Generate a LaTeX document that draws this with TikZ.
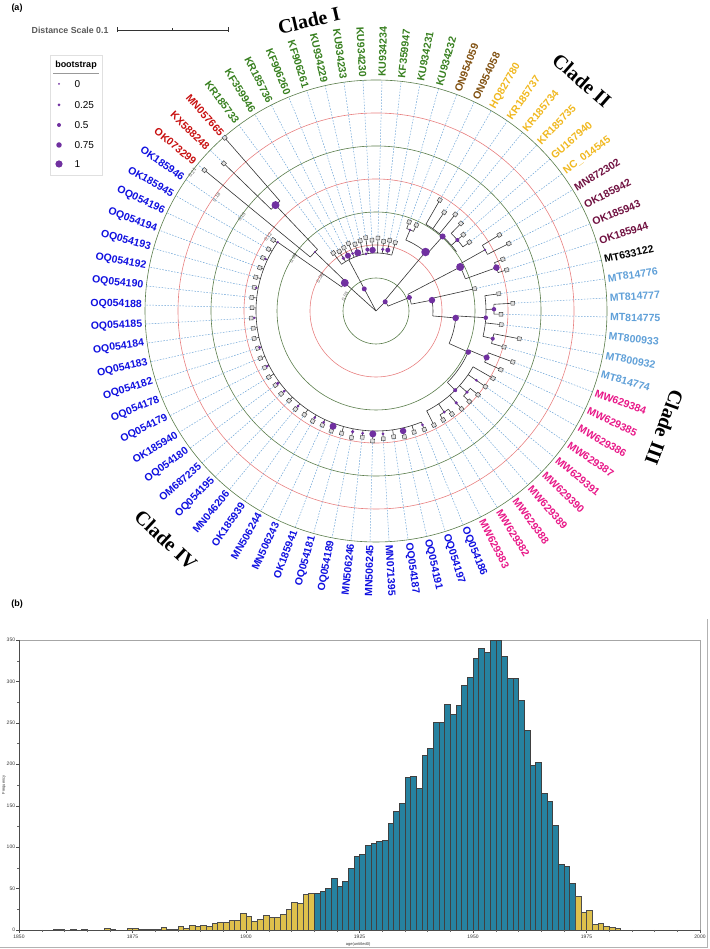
\documentclass[tikz,border=0pt]{standalone}
\usepackage{fontspec}
\setmainfont{Liberation Serif}
\setsansfont{Liberation Sans}
\usetikzlibrary{calc}
\definecolor{CladeGreen}{RGB}{56,128,32}
\definecolor{CladeBrown}{RGB}{128,80,16}
\definecolor{CladeYellow}{RGB}{240,184,32}
\definecolor{CladeMaroon}{RGB}{112,16,64}
\definecolor{CladeSky}{RGB}{96,160,216}
\definecolor{CladePink}{RGB}{232,24,136}
\definecolor{CladeBlue}{RGB}{16,16,224}
\definecolor{CladeRed}{RGB}{200,16,16}
\definecolor{BootPurple}{RGB}{112,48,160}
\definecolor{RingGreen}{RGB}{90,125,75}
\definecolor{RingRed}{RGB}{232,128,128}
\definecolor{LinkBlue}{RGB}{110,165,215}
\definecolor{BarTeal}{RGB}{38,130,160}
\definecolor{BarGold}{RGB}{222,192,76}

\tikzset{
  treeline/.style={draw=black!80, line width=0.6pt},
  tipbox/.style={rectangle, draw=black!80, fill=black!12, line width=0.4pt, minimum size=3.8pt, inner sep=0pt},
  bootdot/.style={circle, fill=BootPurple, inner sep=0pt, minimum size=#1},
  leaflink/.style={draw=LinkBlue, line width=0.5pt, dash pattern=on 1.6pt off 1.4pt},
  leaflab/.style={font=\sffamily\bfseries\fontsize{10.5}{12}\selectfont, inner sep=0pt},
  cladelab/.style={font=\rmfamily\bfseries\fontsize{20}{22}\selectfont, inner sep=0pt},
  scalelab/.style={font=\sffamily\fontsize{5}{6}\selectfont, text=black!60, inner sep=0.5pt},
  ticklab/.style={font=\sffamily\fontsize{5}{6}\selectfont, text=black!80, inner sep=1pt},
  goldbar/.style={fill=BarGold, draw=black!70, line width=0.4pt},
  tealbar/.style={fill=BarTeal, draw=black!75, line width=0.4pt}
}

\newcommand{\radline}[3]{\draw[treeline] (#1:#2pt) -- (#1:#3pt);}
\newcommand{\arcline}[3]{\draw[treeline] (#1:#3pt) arc[start angle=#1, end angle=#2, radius=#3pt];}

\begin{document}
\begin{tikzpicture}[x=1pt, y=1pt]
\useasboundingbox (0,0) rectangle (709,949);

% panel labels
\node[font=\sffamily\bfseries\fontsize{9}{10}\selectfont] (pa) at (17,941) {(a)};
\node[font=\sffamily\bfseries\fontsize{9}{10}\selectfont] (pb) at (17,345) {(b)};

% distance scale
\node[font=\sffamily\bfseries\fontsize{8.8}{10}\selectfont, text=black!65, anchor=east] (dscale) at (112,919) {Distance Scale 0.1};
\coordinate (dsl) at (117,919);
\coordinate (dsr) at (228,919);
\draw[black!80, line width=0.7pt] (dsl) -- (dsr);
\draw[black!80, line width=0.7pt] ($(dsl)+(0,2.5)$) -- ($(dsl)-(0,2.5)$);
\draw[black!80, line width=0.7pt] ($(dsr)+(0,2.5)$) -- ($(dsr)-(0,2.5)$);
\draw[black!80, line width=0.5pt] ($(dsl)!0.5!(dsr)+(0,1.5)$) -- ($(dsl)!0.5!(dsr)-(0,1.5)$);

% bootstrap legend
\draw[black!12, fill=white] (50,774) rectangle (102,894);
\node[font=\sffamily\bfseries\fontsize{9}{10}\selectfont] (legtitle) at (76,884) {bootstrap};
\draw[black!40, line width=0.5pt] (53,875.5) -- (99,875.5);
\foreach \v/\d/\yy in {0/2/865, 0.25/3/844, 0.5/4/824, 0.75/5.5/804, 1/7.2/785}{
  \node[bootdot=\d pt] (legdot\yy) at (59,\yy) {};
  \node[font=\sffamily\fontsize{10}{11}\selectfont, anchor=west] (legval\yy) at (71,\yy) {\v};
}

% ---------------- circular tree ----------------
\begin{scope}[shift={(376,638)}]
  % rings
  \foreach \r/\s in {33/RingGreen,66/RingRed,99/RingGreen,132/RingRed,165/RingGreen,198/RingRed,231/RingGreen}
    \draw[draw=\s, line width=0.6pt] (0,0) circle[radius=\r pt];

  % scale values
  \foreach \a/\r/\t in {155/34/0.03, 149.5/65/0.06, 147.5/98/0.09, 145.6/131/0.12, 145/164/0.15, 144.5/196/0.18, 143/230/0.21}
    \node[scalelab, rotate=\a-90] (sc\r) at (\a:\r pt) {\t};

  % root and inner splits
  \radline{45}{0}{13}
  \radline{118}{0}{25}
  \radline{138}{0}{42}
  % clade I
  \radline{118}{25}{58}
  \arcline{74.3}{126.4}{58}
  % red + clade IV
  \arcline{136}{145}{42}
  \radline{136}{42}{85}
  \arcline{133.5}{140.6}{85}
  \radline{133.5}{85}{146}
  \arcline{131.1}{135.9}{146}
  \radline{145}{42}{120}
  \arcline{145}{292.2}{120}
  % clade II
  \arcline{22}{50}{13}
  \radline{50}{13}{77}
  \arcline{48.2}{67.2}{77}
  \radline{67.2}{77}{88}
  \arcline{64.8}{69.6}{88}
  \radline{48.2}{77}{100}
  \arcline{36.4}{60.1}{100}
  \radline{41.1}{100}{108}
  \arcline{36.4}{45.9}{108}
  \radline{22}{13}{36}
  \arcline{11}{27.6}{36}
  \radline{27.6}{36}{95}
  \arcline{19.8}{29.3}{95}
  \radline{29.3}{95}{125}
  \arcline{26.9}{31.7}{125}
  \radline{19.8}{95}{128}
  \arcline{17.4}{22.2}{128}
  \radline{11}{36}{57}
  \arcline{-5}{12.7}{57}
  \radline{-5}{57}{80}
  \arcline{-24}{-3.5}{80}
  \radline{-3.5}{80}{110}
  \arcline{-13.35}{8.0}{110}
  \radline{0.85}{110}{118}
  \arcline{-1.5}{3.2}{118}
  \radline{-13.35}{110}{120}
  \arcline{-15.7}{-11.0}{120}
  % clade III
  \radline{-24}{80}{101}
  \arcline{-45}{-22.8}{101}
  \radline{-22.8}{101}{120}
  \arcline{-25.2}{-20.4}{120}
  \radline{-45}{101}{112}
  \arcline{-63.1}{-29.9}{112}
  \radline{-41.75}{112}{122}
  \arcline{-44.1}{-39.4}{122}
  \radline{-56}{112}{122}
  \arcline{-58.4}{-53.6}{122}

  % leaves: label/colour/stub start/tip radius
  \foreach \lab/\col/\rp/\rt [count=\i from 0] in {
    KR185733/CladeGreen/58/72, KF359946/CladeGreen/58/70, KR185736/CladeGreen/58/71,
    KF906260/CladeGreen/58/73, KF906261/CladeGreen/58/70, KU934229/CladeGreen/58/72,
    KU934233/CladeGreen/58/74, KU934230/CladeGreen/58/71, KU934234/CladeGreen/58/73,
    KF359947/CladeGreen/58/70, KU934231/CladeGreen/58/72, KU934232/CladeGreen/58/71,
    ON954059/CladeBrown/88/95, ON954058/CladeBrown/88/95,
    HQ827780/CladeYellow/100/128, KR185737/CladeYellow/100/120, KR185734/CladeYellow/100/125,
    KR185735/CladeYellow/108/122, GU167940/CladeYellow/108/116, NC\_014545/CladeYellow/108/116,
    MN872302/CladeMaroon/125/145, OK185942/CladeMaroon/125/149,
    OK185943/CladeMaroon/128/137, OK185944/CladeMaroon/128/137,
    MT633122/black/57/101,
    MT814776/CladeSky/110/124, MT814777/CladeSky/118/137, MT814775/CladeSky/118/125,
    MT800933/CladeSky/110/126, MT800932/CladeSky/120/146, MT814774/CladeSky/120/133,
    MW629384/CladePink/120/146, MW629385/CladePink/120/138, MW629386/CladePink/112/135,
    MW629387/CladePink/112/133, MW629391/CladePink/122/132, MW629390/CladePink/122/130,
    MW629389/CladePink/112/130, MW629388/CladePink/122/128, MW629382/CladePink/122/128,
    MW629383/CladePink/112/128,
    OQ054186/CladeBlue/120/128, OQ054197/CladeBlue/120/127, OQ054191/CladeBlue/120/129,
    OQ054187/CladeBlue/120/127, MN071395/CladeBlue/120/128, MN506245/CladeBlue/120/130,
    MN506246/CladeBlue/120/127, OQ054189/CladeBlue/120/129, OQ054181/CladeBlue/120/127,
    OK185941/CladeBlue/120/128, MN506243/CladeBlue/120/126, MN506244/CladeBlue/120/127,
    OK185939/CladeBlue/120/126, MN046206/CladeBlue/120/127, OQ054195/CladeBlue/120/125,
    OM687235/CladeBlue/120/126, OQ054180/CladeBlue/120/125, OK185940/CladeBlue/120/126,
    OQ054179/CladeBlue/120/125, OQ054178/CladeBlue/120/125, OQ054182/CladeBlue/120/124,
    OQ054183/CladeBlue/120/125, OQ054184/CladeBlue/120/124, OQ054185/CladeBlue/120/125,
    OQ054188/CladeBlue/120/124, OQ054190/CladeBlue/120/125, OQ054192/CladeBlue/120/124,
    OQ054193/CladeBlue/120/125, OQ054194/CladeBlue/120/124, OQ054196/CladeBlue/120/125,
    OK185945/CladeBlue/120/124, OK185946/CladeBlue/120/125,
    OK073299/CladeRed/85/222, KX588248/CladeRed/146/212, MN057665/CladeRed/146/230}{
    \pgfmathsetmacro\an{mod(126.4-4.7368*\i+450,360)-90}
    \pgfmathtruncatemacro\flip{\an>90 ? 1 : 0}
    \node[tipbox, rotate=\an] (tip\i) at (\an:\rt pt) {};
    \coordinate (ring\i) at (\an:231pt);
    \draw[leaflink] (tip\i) -- (ring\i);
    \draw[treeline] (\an:\rp pt) -- (tip\i);
    \ifnum\flip=1
      \node[leaflab, text=\col, anchor=east, rotate=\an+180] (lab\i) at (\an:234pt) {\lab};
    \else
      \node[leaflab, text=\col, anchor=west, rotate=\an] (lab\i) at (\an:234pt) {\lab};
    \fi
  }

  % bootstrap dots on inner nodes (angle/radius/size)
  \foreach \a/\r/\d [count=\n] in {138/42/8, 118/25/5, 45/13/5, 22/36/5, 50/77/8.5,
      48.2/100/6, 41.1/108/4, 67.2/88/2.5, 27.6/95/8, 29.3/125/2.5, 19.8/128/6.5,
      11/57/6.5, -5/80/6.5, -3.5/110/4.5, 0.85/118/4.5, -13.35/120/4, -24/101/5.5,
      -22.8/120/6, -45/112/4, -41.75/122/3.5, -56/122/3, 136/85/2, 133.5/146/8,
      145/120/2.5, 100/58/3}
    \node[bootdot=\d pt] (bs\n) at (\a:\r pt) {};
  % bootstrap dots on leaf stubs (leaf/radius/size)
  \foreach \i/\r/\d in {1/62/3.5, 2/62/6, 3/62/3, 4/61/7, 6/62/4, 7/61/6.5, 9/62/3.5, 10/62/5,
      34/122/3, 37/122/3.5, 41/123/3, 43/123/6.5, 45/123/3, 46/123/7, 47/123/3, 48/123/3.5,
      50/123/7, 51/123/3, 52/123/3, 54/123/3, 56/122/3, 57/122/3.5, 59/122/3, 61/122/3,
      64/122/2.5, 67/122/2.5, 70/122/2.5}
    \node[bootdot=\d pt] (bsl\i) at ({126.4-4.7368*\i}:\r pt) {};

  % clade names
  \node[cladelab, rotate=13] (cladeI) at (103:298pt) {Clade I};
  \node[cladelab, rotate=-41.4] (cladeII) at (48.2:309pt) {Clade II};
  \node[cladelab, rotate=-110] (cladeIII) at (-22:311pt) {Clade III};
  \node[cladelab, rotate=-43] (cladeIV) at (227.5:311pt) {Clade IV};
\end{scope}

% ---------------- histogram ----------------
\draw[black!30, line width=0.5pt] (0,1.5) -- (707.5,1.5) -- (707.5,330);
\begin{scope}[shift={(19,19)}, x=4.54pt, y=0.8286pt]
  \draw[black!35, line width=0.5pt] (0,350) -- (150,350) -- (150,0);
  % lower tail
  \foreach \h [count=\k from 0] in {1,1,0,1,0,1,0,0,0,2,1,0,0,2,2,1,1,1,1,3,1,1,4,2,6,4,6,4,8,9,
      9,12,12,20,17,11,13,18,15,16,19,25,33,32,43,45}
    {\ifnum\h>0 \draw[goldbar] ({7.5+1.25*\k},0) rectangle ++(1.25,\h); \fi}
  % 95% interval
  \foreach \h [count=\k from 0] in {45,47,51,63,53,59,74,89,91,102,105,107,108,129,143,153,
      185,186,171,211,220,251,251,273,261,271,295,305,328,340,335,350,350,331,304,304,
      277,241,199,202,165,156,127,79,77,57}
    \draw[tealbar] ({65+1.25*\k},0) rectangle ++(1.25,\h);
  % upper tail
  \foreach \h [count=\k from 0] in {41,22,24,7,8,5,3,2}
    \draw[goldbar] ({122.5+1.25*\k},0) rectangle ++(1.25,\h);
  \draw[black!70, line width=0.5pt] (0,350) -- (0,0) -- (150,0);
  % axes ticks
  \foreach \v in {0,50,...,350}{
    \draw[black!70] (0,\v) -- (-0.6,\v);
    \node[ticklab, anchor=east] (yt\v) at (-0.6,\v) {\v};
  }
  \foreach \v in {25,75,...,325}
    \draw[black!60] (0,\v) -- (-0.35,\v);
  \foreach \t in {0,25,...,150}{
    \draw[black!70] (\t,0) -- (\t,-3.5);
    \pgfmathtruncatemacro\yr{1850+\t}
    \node[ticklab, anchor=north] (xt\t) at (\t,-4) {\yr};
  }
  \foreach \t in {5,10,...,145}
    \draw[black!60] (\t,0) -- (\t,-2);
  \node[ticklab, font=\sffamily\fontsize{4}{5}\selectfont, rotate=90] (ylab) at (-3.3,175) {Frequency};
  \node[ticklab, font=\sffamily\fontsize{4}{5}\selectfont] (xlab) at (74.7,-18) {age(untitled0)};
\end{scope}
\end{tikzpicture}
\end{document}
